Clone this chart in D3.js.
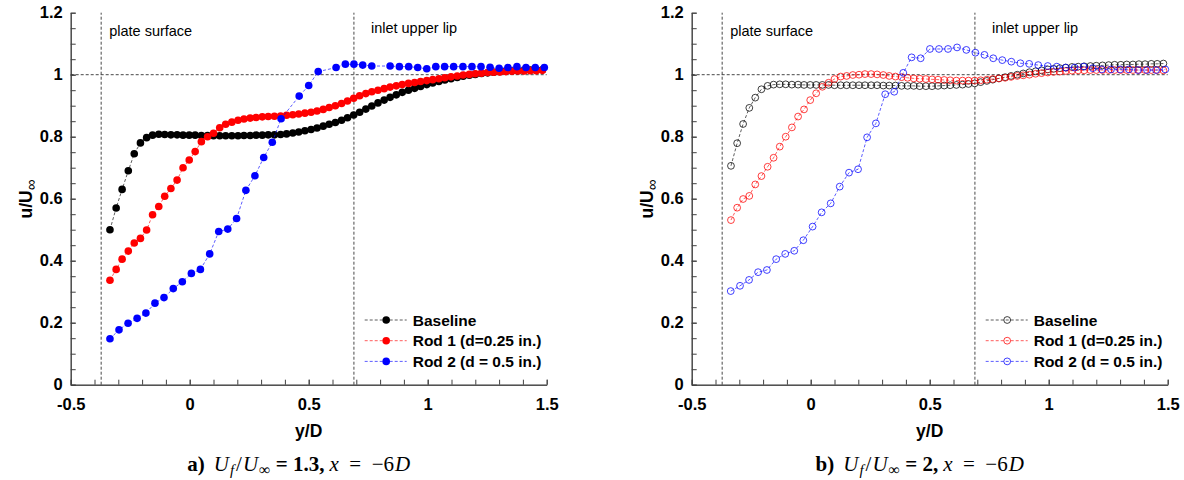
<!DOCTYPE html>
<head>
<meta charset="utf-8">
<title>Velocity profiles u/U vs y/D</title>
<style>
  body { margin: 0; background: #fff; }
  svg text { font-family: "Liberation Sans", Arial, sans-serif; }
  svg text.caption { font-family: "Liberation Serif", "Times New Roman", serif; }
  .axis path, .axis line { stroke: #404040; stroke-width: 1; }
  .axis text { font-size: 16.5px; font-weight: bold; fill: #000; }
</style>
</head>
<body>
<svg width="1184" height="480"></svg>

<script src="https://d3js.org/d3.v7.min.js"></script>
<script>

// ---------------- data ----------------
// y/D stations of the fine PIV grid (baseline + rod 1)
var yFine = [-0.335,-0.309,-0.284,-0.258,-0.233,-0.207,-0.181,-0.156,-0.130,-0.105,-0.079,-0.053,
  -0.028,-0.002,0.023,0.049,0.075,0.100,0.126,0.151,0.177,0.203,0.228,0.254,0.279,0.305,0.330,0.356,
  0.382,0.407,0.433,0.458,0.484,0.510,0.535,0.561,0.586,0.612,0.638,0.663,0.689,0.714,0.740,0.765,
  0.791,0.817,0.842,0.868,0.893,0.919,0.945,0.970,0.996,1.021,1.047,1.072,1.098,1.124,1.149,1.175,
  1.200,1.226,1.252,1.277,1.303,1.328,1.354,1.379,1.405,1.431,1.456,1.482];

// panel a) Uf/Uinf = 1.3
var baseA = [0.500,0.570,0.630,0.690,0.745,0.780,0.797,0.805,0.808,0.807,0.806,0.806,
  0.805,0.805,0.805,0.804,0.804,0.803,0.803,0.803,0.803,0.803,0.804,0.804,0.805,0.805,0.806,0.806,
  0.807,0.809,0.812,0.815,0.819,0.823,0.828,0.834,0.840,0.846,0.853,0.861,0.870,0.879,0.889,0.899,
  0.909,0.918,0.927,0.935,0.943,0.950,0.956,0.962,0.968,0.973,0.978,0.983,0.987,0.991,0.995,0.998,
  1.001,1.004,1.006,1.008,1.010,1.011,1.012,1.013,1.014,1.015,1.015,1.016];
var rod1A = [0.337,0.372,0.405,0.431,0.457,0.472,0.499,0.548,0.575,0.608,0.633,0.660,
  0.700,0.725,0.752,0.784,0.800,0.811,0.829,0.840,0.847,0.853,0.857,0.860,0.862,0.864,0.865,0.866,
  0.867,0.869,0.871,0.873,0.876,0.879,0.883,0.888,0.894,0.900,0.907,0.915,0.924,0.932,0.939,0.945,
  0.950,0.955,0.960,0.964,0.968,0.972,0.975,0.978,0.981,0.984,0.987,0.990,0.993,0.996,0.999,1.001,
  1.003,1.005,1.007,1.008,1.009,1.010,1.011,1.012,1.012,1.013,1.013,1.014];
var yRod2A = [-0.335,-0.297,-0.259,-0.221,-0.184,-0.146,-0.108,-0.069,-0.031,0.007,0.045,0.084,
  0.122,0.160,0.197,0.236,0.274,0.311,0.347,0.384,0.460,0.500,0.540,0.615,0.654,0.690,0.727,0.765,
  0.842,0.881,0.920,0.958,0.996,1.034,1.071,1.109,1.148,1.186,1.224,1.262,1.300,1.337,1.375,1.413,
  1.452,1.490];
var rod2A = [0.148,0.177,0.198,0.214,0.231,0.263,0.281,0.310,0.332,0.359,0.372,0.422,
  0.494,0.502,0.536,0.627,0.674,0.733,0.782,0.858,0.931,0.965,1.010,1.023,1.034,1.034,1.031,1.028,
  1.028,1.026,1.026,1.023,1.019,1.026,1.026,1.026,1.026,1.026,1.026,1.024,1.021,1.023,1.026,1.023,
  1.023,1.023];

// panel b) Uf/Uinf = 2
var baseB = [0.706,0.779,0.841,0.893,0.926,0.953,0.964,0.968,0.969,0.969,0.968,0.968,
  0.967,0.967,0.967,0.967,0.967,0.966,0.966,0.966,0.966,0.966,0.966,0.966,0.966,0.965,0.965,0.965,
  0.964,0.964,0.964,0.963,0.963,0.963,0.964,0.965,0.966,0.967,0.968,0.970,0.972,0.976,0.980,0.984,
  0.988,0.992,0.996,1.000,1.004,1.008,1.011,1.014,1.017,1.019,1.021,1.023,1.025,1.026,1.027,1.028,
  1.029,1.030,1.031,1.032,1.032,1.033,1.033,1.034,1.034,1.035,1.035,1.036];
var rod1B = [0.531,0.571,0.599,0.609,0.646,0.673,0.703,0.732,0.768,0.800,0.830,0.865,
  0.888,0.918,0.940,0.961,0.974,0.986,0.994,0.996,0.999,1.000,1.002,1.002,1.001,0.999,0.996,0.994,
  0.992,0.990,0.988,0.987,0.986,0.985,0.984,0.983,0.982,0.981,0.981,0.981,0.981,0.982,0.984,0.986,
  0.988,0.990,0.993,0.996,0.998,1.000,1.003,1.005,1.007,1.009,1.010,1.012,1.013,1.014,1.014,1.015,
  1.015,1.015,1.015,1.015,1.015,1.015,1.015,1.015,1.015,1.015,1.015,1.014];
var yRod2B = [-0.336,-0.297,-0.259,-0.221,-0.184,-0.145,-0.107,-0.069,-0.031,0.008,0.046,0.084,
  0.122,0.161,0.199,0.237,0.274,0.313,0.351,0.389,0.424,0.462,0.501,0.539,0.577,0.615,0.654,0.692,
  0.730,0.767,0.805,0.843,0.881,0.918,0.956,0.996,1.034,1.071,1.109,1.147,1.185,1.223,1.262,1.300,
  1.337,1.375,1.413,1.451,1.490];
var rod2B = [0.302,0.319,0.338,0.363,0.370,0.405,0.422,0.432,0.466,0.510,0.556,0.585,
  0.639,0.684,0.695,0.798,0.843,0.937,0.945,1.006,1.056,1.053,1.083,1.083,1.083,1.088,1.080,1.071,
  1.064,1.053,1.047,1.042,1.037,1.035,1.031,1.028,1.026,1.023,1.023,1.026,1.021,1.017,1.017,1.017,
  1.017,1.015,1.015,1.015,1.017];

var seriesNames = ["Baseline", "Rod 1 (d=0.25 in.)", "Rod 2 (d = 0.5 in.)"];
var seriesColors = ["#000000", "#ff0000", "#0000ff"];

var xTicks = [-0.5, 0, 0.5, 1, 1.5];
var xTickLabels = ["-0.5", "0", "0.5", "1", "1.5"];
var yTicks = [0, 0.2, 0.4, 0.6, 0.8, 1, 1.2];
var yTickLabels = ["0", "0.2", "0.4", "0.6", "0.8", "1", "1.2"];

var plateSurface = -0.372;   // y/D of plate surface
var inletLip = 0.69;         // y/D of inlet upper lip

var panels = [
  { left: 70.7, tag: "a)", ratio: "1.3", filled: true,
    series: [[yFine, baseA], [yFine, rod1A], [yRod2A, rod2A]] },
  { left: 691.7, tag: "b)", ratio: "2", filled: false,
    series: [[yFine, baseB], [yFine, rod1B], [yRod2B, rod2B]] }
];

// ---------------- drawing ----------------
var svg = d3.select("svg");
var plotW = 476, plotTop = 12.7, plotBottom = 384.7;

panels.forEach(function(p) {
  var x = d3.scaleLinear().domain([-0.5, 1.5]).range([p.left, p.left + plotW]);
  var y = d3.scaleLinear().domain([0, 1.2]).range([plotBottom, plotTop]);
  var g = svg.append("g");

  // minor ticks (inward)
  g.append("g").attr("class", "axis").attr("transform", "translate(0," + plotBottom + ")")
    .call(d3.axisBottom(x).tickValues(d3.range(-0.5, 1.51, 0.1)).tickSize(-5).tickSizeOuter(0).tickFormat(""));
  g.append("g").attr("class", "axis").attr("transform", "translate(" + p.left + ",0)")
    .call(d3.axisLeft(y).tickValues(d3.range(0, 1.21, 0.05)).tickSize(-5).tickSizeOuter(0).tickFormat(""));
  // major ticks with labels
  g.append("g").attr("class", "axis").attr("transform", "translate(0," + plotBottom + ")")
    .call(d3.axisBottom(x).tickValues(xTicks).tickSize(-5).tickSizeOuter(0).tickPadding(14)
      .tickFormat(function(d, i) { return xTickLabels[i]; }));
  g.append("g").attr("class", "axis").attr("transform", "translate(" + p.left + ",0)")
    .call(d3.axisLeft(y).tickValues(yTicks).tickSize(-5).tickSizeOuter(0).tickPadding(8)
      .tickFormat(function(d, i) { return yTickLabels[i]; }));

  // reference lines
  var refStyle = function(sel) {
    return sel.attr("stroke", "#333").attr("stroke-width", 0.9).attr("stroke-dasharray", "3,2").attr("fill", "none");
  };
  refStyle(g.append("line").attr("x1", x(-0.5)).attr("x2", x(1.5)).attr("y1", y(1)).attr("y2", y(1)));
  refStyle(g.append("line").attr("x1", x(plateSurface)).attr("x2", x(plateSurface)).attr("y1", y(0)).attr("y2", y(1.2)));
  refStyle(g.append("line").attr("x1", x(inletLip)).attr("x2", x(inletLip)).attr("y1", y(0)).attr("y2", y(1.2)));

  g.append("text").attr("x", x(plateSurface) + 8).attr("y", 36)
    .attr("font-size", "14.5px").text("plate surface");
  g.append("text").attr("x", x(inletLip) + 17).attr("y", 33)
    .attr("font-size", "14.5px").text("inlet upper lip");

  // series
  var line = d3.line().x(function(d) { return x(d[0]); }).y(function(d) { return y(d[1]); });
  p.series.forEach(function(s, k) {
    var pts = s[0].map(function(v, i) { return [v, s[1][i]]; });
    g.append("path").datum(pts).attr("d", line)
      .attr("fill", "none").attr("stroke", seriesColors[k]).attr("stroke-width", 0.8)
      .attr("stroke-dasharray", "3,2").attr("opacity", 0.8);
    g.append("g").selectAll("circle").data(pts).enter().append("circle")
      .attr("cx", function(d) { return x(d[0]); })
      .attr("cy", function(d) { return y(d[1]); })
      .attr("r", p.filled ? 3.8 : 3.4)
      .attr("fill", p.filled ? seriesColors[k] : "none")
      .attr("stroke", p.filled ? "none" : seriesColors[k])
      .attr("stroke-width", 1).attr("stroke-opacity", 0.75);
  });

  // legend
  var lg = g.append("g").attr("transform", "translate(" + (p.left + 294) + ",320)");
  seriesNames.forEach(function(name, k) {
    var row = lg.append("g").attr("transform", "translate(0," + (k * 20.7) + ")");
    row.append("line").attr("x1", 0).attr("x2", 42).attr("y1", 0).attr("y2", 0)
      .attr("stroke", seriesColors[k]).attr("stroke-width", 0.8).attr("stroke-dasharray", "3,2").attr("opacity", 0.8);
    row.append("circle").attr("cx", 21.5).attr("cy", 0).attr("r", p.filled ? 3.8 : 3.4)
      .attr("fill", p.filled ? seriesColors[k] : "none")
      .attr("stroke", p.filled ? "none" : seriesColors[k]).attr("stroke-width", 1).attr("stroke-opacity", 0.75);
    row.append("text").attr("x", 48).attr("y", 5.5).attr("font-size", "15.5px")
      .attr("font-weight", "bold").text(name);
  });

  // axis titles
  g.append("text").attr("x", x(0.5)).attr("y", 437).attr("text-anchor", "middle")
    .attr("font-size", "17.5px").attr("font-weight", "bold").text("y/D");
  var yl = g.append("text").attr("transform", "translate(" + (p.left - 39) + ",199) rotate(-90)")
    .attr("text-anchor", "middle").attr("font-size", "17.5px").attr("font-weight", "bold");
  yl.append("tspan").text("u/U");
  yl.append("tspan").attr("dy", 4).attr("font-weight", "normal").attr("font-size", "15px").text("∞");

  // caption
  var cap = g.append("text").attr("class", "caption").attr("x", x(0.5) - 10).attr("y", 471)
    .attr("text-anchor", "middle").attr("font-size", "21px");
  cap.append("tspan").attr("font-weight", "bold").text(p.tag);
  cap.append("tspan").attr("dx", 9).attr("font-style", "italic").text("U");
  cap.append("tspan").attr("font-style", "italic").attr("font-size", "15px").attr("dy", 4).attr("dx", 1).text("f");
  cap.append("tspan").attr("dy", -4).attr("dx", 2).text("/");
  cap.append("tspan").attr("font-style", "italic").attr("dx", 1).text("U");
  cap.append("tspan").attr("font-size", "16px").attr("dy", 4).attr("dx", 1).text("∞");
  cap.append("tspan").attr("dy", -4).attr("font-weight", "bold").text(" = " + p.ratio + ",");
  cap.append("tspan").attr("dx", 5).attr("font-style", "italic").text("x");
  cap.append("tspan").text("\u2002=\u2002\u22126");
  cap.append("tspan").attr("font-style", "italic").attr("dx", 1).text("D");
});

</script>
</body>
